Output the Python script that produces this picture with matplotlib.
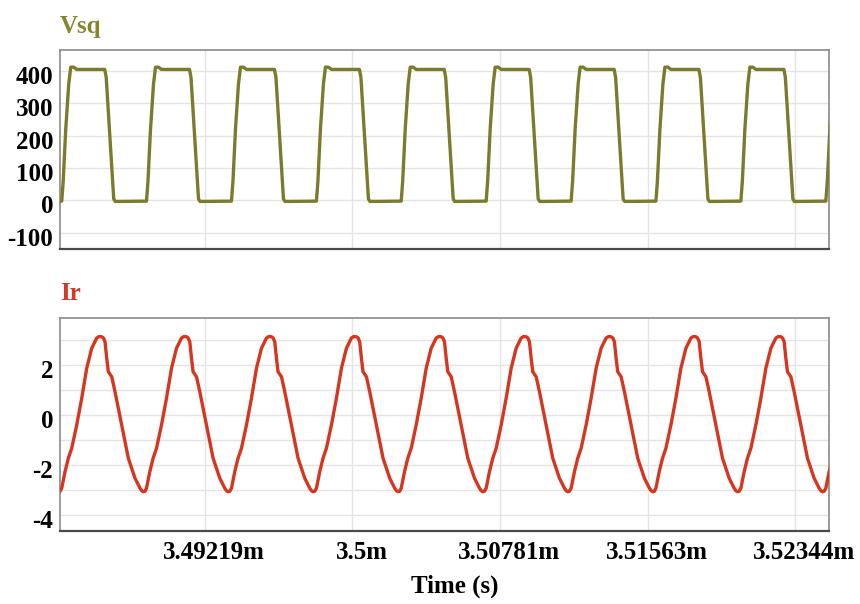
"""
Formas de onda Vsq e Ir (saída de simulação) em dois painéis
com eixo de tempo comum.
"""

import numpy as np
import matplotlib
matplotlib.use("Agg")
import matplotlib.pyplot as plt
import matplotlib.transforms as mtransforms

# ── Dados ────────────────────────────────────────────────────────────────────
# início de cada ciclo (borda de subida de Vsq), em ms
INICIO_CICLOS_MS = [3.48010, 3.48460, 3.48909, 3.49359, 3.49809, 3.50258,
                    3.50708, 3.51158, 3.51607, 3.52057, 3.52507]

# um ciclo de Vsq: instante relativo ao início do ciclo (µs) e tensão (V)
VSQ_T_US = [0.000, 0.079, 0.212, 0.371, 0.477, 0.636, 0.794,
            2.278, 2.357, 2.754, 2.834]
VSQ_V    = [-2, 60, 220, 360, 412, 412, 405, 405, 380, 5, -3]

# um ciclo de Ir: instante relativo ao início do ciclo (µs) e corrente (A)
IR_T_US = [0.000, 0.175, 0.350, 0.530, 0.794, 1.059, 1.324, 1.589, 1.854,
           1.986, 2.119, 2.209, 2.293, 2.383, 2.468, 2.648, 2.823, 3.178,
           3.528, 3.882, 4.147, 4.237, 4.322, 4.412]
IR_A    = [-2.93, -2.27, -1.73, -1.33, -0.40, 0.67, 1.87, 2.67, 3.08,
           3.14, 3.13, 3.08, 2.93, 2.27, 1.73, 1.53, 0.93, -0.40,
           -1.73, -2.53, -2.93, -3.03, -3.07, -3.05]

XTICKS_MS    = [3.4921875, 3.5, 3.5078125, 3.515625, 3.5234375]
XTICK_LABELS = ["3.49219m", "3.5m", "3.50781m", "3.51563m", "3.52344m"]
XLIM_MS      = (3.48451, 3.52524)

VSQ_YTICKS = [-100, 0, 100, 200, 300, 400]
VSQ_YLIM   = (-150, 465)
IR_YTICKS  = [-4, -2, 0, 2]
IR_YGRID   = [-3, -1, 1, 3]
IR_YLIM    = (-4.64, 3.88)

COR_VSQ = "#7b7b2c"
COR_IR  = "#d5361f"
FONTE   = "Liberation Serif"

plt.rcParams["axes.unicode_minus"] = False


def montar_traco(t_us, valores):
    """Repete a forma de um ciclo a partir de cada início de ciclo."""
    t = np.concatenate([ini + np.asarray(t_us) / 1000.0 for ini in INICIO_CICLOS_MS])
    v = np.tile(np.asarray(valores, dtype=float), len(INICIO_CICLOS_MS))
    return t, v


def estilo_painel(ax, fig):
    ax.set_xlim(*XLIM_MS)
    ax.set_xticks(XTICKS_MS)
    ax.tick_params(length=0, labelsize=18, pad=5)
    ax.grid(True, which="both", color="#e4e4e4", linewidth=1.0, zorder=0)
    ax.set_axisbelow(True)
    for lado in ("top", "right", "left"):
        ax.spines[lado].set_color("#8a8a8a")
        ax.spines[lado].set_linewidth(1.2)
    ax.spines["bottom"].set_color("#4a4a4a")
    ax.spines["bottom"].set_linewidth(1.6)
    desloc = mtransforms.ScaledTranslation(0, -4 / 100, fig.dpi_scale_trans)
    for rot in ax.get_yticklabels():
        rot.set_fontfamily(FONTE)
        rot.set_fontweight("bold")
        rot.set_transform(rot.get_transform() + desloc)


# ── Gráfico ──────────────────────────────────────────────────────────────────
fig = plt.figure(figsize=(8.6, 6.04), dpi=100)
fig.patch.set_facecolor("white")

ax1 = fig.add_axes([0.0698, 0.5877, 0.8942, 0.3295])
ax2 = fig.add_axes([0.0698, 0.1209, 0.8942, 0.3526])

# Vsq
t_vsq, v_vsq = montar_traco(VSQ_T_US, VSQ_V)
ax1.plot(t_vsq, v_vsq, color=COR_VSQ, linewidth=2.4, solid_joinstyle="round", zorder=3)
ax1.set_ylim(*VSQ_YLIM)
ax1.set_yticks(VSQ_YTICKS)
ax1.set_xticklabels([])
estilo_painel(ax1, fig)

# Ir
t_ir, v_ir = montar_traco(IR_T_US, IR_A)
ax2.plot(t_ir, v_ir, color=COR_IR, linewidth=2.4, solid_joinstyle="round", zorder=3)
ax2.set_ylim(*IR_YLIM)
ax2.set_yticks(IR_YTICKS)
ax2.set_yticks(IR_YGRID, minor=True)
ax2.tick_params(which="minor", length=0)
ax2.set_xticklabels(XTICK_LABELS)
estilo_painel(ax2, fig)
ax2.tick_params(axis="x", pad=7)

desloc_x = mtransforms.ScaledTranslation(9 / 100, 0, fig.dpi_scale_trans)
for rot in ax2.get_xticklabels():
    rot.set_fontfamily(FONTE)
    rot.set_fontweight("bold")
    rot.set_transform(rot.get_transform() + desloc_x)

# títulos dos painéis e rótulo do eixo de tempo
fig.text(60 / 860, 1 - 27 / 604, "Vsq", color="#86862f", fontsize=18,
         fontfamily=FONTE, fontweight="bold", ha="left", va="center")
fig.text(60 / 860, 1 - 293 / 604, "Ir", color="#d23a26", fontsize=18,
         fontfamily=FONTE, fontweight="bold", ha="left", va="center")
fig.text(455 / 860, 1 - 586 / 604, "Time (s)", color="black", fontsize=18,
         fontfamily=FONTE, fontweight="bold", ha="center", va="center")

fig.savefig("out.png", dpi=100, facecolor="white")
plt.close(fig)
